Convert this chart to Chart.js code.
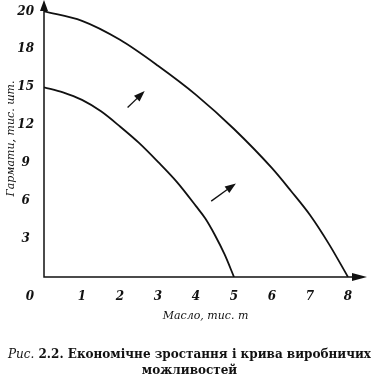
<!DOCTYPE html>
<html>
<head>
<meta charset="utf-8">
<script src="https://cdn.jsdelivr.net/npm/chart.js"></script>
<style>
  html, body { margin: 0; padding: 0; background: #fff; }
  #wrap { width: 379px; height: 389px; }
</style>
</head>
<body>
<div id="wrap"><canvas id="myChart"></canvas></div>
<script>
// Data
const upperX = [0, 1, 2, 3, 4, 5, 6, 6.5, 7, 7.5, 8];
const upperY = [20, 19.5, 18.5, 16.7, 14.4, 11.7, 8.6, 6.8, 4.9, 2.6, 0];
const lowerX = [0, 0.5, 1, 1.5, 2, 2.5, 3, 3.5, 4, 4.25, 4.5, 4.75, 5];
const lowerY = [15, 14.6, 14.0, 13.1, 11.9, 10.6, 9.1, 7.5, 5.6, 4.6, 3.3, 1.8, 0];

// shift arrows (data units)
const arrowFrom = [[2.2, 13.4], [4.4, 6.0]];
const arrowTo = [[2.65, 14.7], [5.05, 7.4]];

const xTicks = [1, 2, 3, 4, 5, 6, 7, 8];
const yTicks = [3, 6, 9, 12, 15, 18, 20];
const xTitle = 'Масло, тис. т';
const yTitle = 'Гармати, тис. шт.';
const captionPrefix = 'Рис.';
const captionLine1 = ' 2.2. Економічне зростання і крива виробничих';
const captionLine2 = 'можливостей';

const ink = '#111';
const tickFont = { family: 'DejaVu Serif', style: 'italic', weight: 'bold', size: 12 };
const titleFont = { family: 'DejaVu Serif', style: 'italic', size: 11 };

// printed y axis has equal gaps between its labels (0,3,...,18,20)
const yBreaks = [0].concat(yTicks);
function yStep(v) {
    for (let i = 0; i < yBreaks.length - 1; i++) {
        if (v <= yBreaks[i + 1]) return i + (v - yBreaks[i]) / (yBreaks[i + 1] - yBreaks[i]);
    }
    const n = yBreaks.length - 1;
    return n + (v - yBreaks[n]) / (yBreaks[n] - yBreaks[n - 1]);
}
function yFromStep(s) {
    const n = yBreaks.length - 1;
    if (s >= n) return yBreaks[n] + (s - n) * (yBreaks[n] - yBreaks[n - 1]);
    const i = Math.max(0, Math.floor(s));
    return yBreaks[i] + (s - i) * (yBreaks[i + 1] - yBreaks[i]);
}

class PrintedScale extends Chart.LinearScale {
    getPixelForValue(value) {
        return this.getPixelForDecimal(yStep(value) / yStep(this.max));
    }
    getValueForPixel(pixel) {
        return yFromStep(this.getDecimalForPixel(pixel) * yStep(this.max));
    }
}
PrintedScale.id = 'printed';
PrintedScale.defaults = Chart.LinearScale.defaults;
Chart.register(PrintedScale);

function arrowHead(ctx, x1, y1, x2, y2, len, half) {
    const a = Math.atan2(y2 - y1, x2 - x1);
    ctx.beginPath();
    ctx.moveTo(x2, y2);
    ctx.lineTo(x2 - len * Math.cos(a) + half * Math.sin(a), y2 - len * Math.sin(a) - half * Math.cos(a));
    ctx.lineTo(x2 - len * Math.cos(a) - half * Math.sin(a), y2 - len * Math.sin(a) + half * Math.cos(a));
    ctx.closePath();
    ctx.fill();
}

const extras = {
    id: 'extras',
    afterDraw(chart) {
        const ctx = chart.ctx;
        const a = chart.chartArea;
        const xs = chart.scales.x, ys = chart.scales.y;
        ctx.save();
        ctx.strokeStyle = ink;
        ctx.fillStyle = ink;

        // axes with arrows
        ctx.lineWidth = 1.5;
        ctx.beginPath();
        ctx.moveTo(a.left, a.top + 8);
        ctx.lineTo(a.left, a.bottom);
        ctx.lineTo(a.right - 10, a.bottom);
        ctx.stroke();
        arrowHead(ctx, a.left, a.bottom, a.left, a.top, 11, 4);
        arrowHead(ctx, a.left, a.bottom, a.right, a.bottom, 15, 4);

        // shift arrows
        ctx.lineWidth = 1.3;
        for (let i = 0; i < arrowFrom.length; i++) {
            const x1 = xs.getPixelForValue(arrowFrom[i][0]), y1 = ys.getPixelForValue(arrowFrom[i][1]);
            const x2 = xs.getPixelForValue(arrowTo[i][0]), y2 = ys.getPixelForValue(arrowTo[i][1]);
            const ang = Math.atan2(y2 - y1, x2 - x1);
            ctx.beginPath();
            ctx.moveTo(x1, y1);
            ctx.lineTo(x2 - 8 * Math.cos(ang), y2 - 8 * Math.sin(ang));
            ctx.stroke();
            arrowHead(ctx, x1, y1, x2, y2, 11, 4);
        }

        // origin label
        ctx.font = 'italic bold 12px "DejaVu Serif"';
        ctx.textAlign = 'center';
        ctx.textBaseline = 'middle';
        ctx.fillText('0', xs.getPixelForValue(0) - 14, a.bottom + 20);

        // caption
        const capItalic = 'italic 12px "DejaVu Serif"';
        const capBold = 'bold 12px "DejaVu Serif"';
        ctx.textAlign = 'left';
        ctx.font = capItalic;
        const w1 = ctx.measureText(captionPrefix).width;
        ctx.font = capBold;
        const w2 = ctx.measureText(captionLine1).width;
        const cx = chart.width / 2;
        const x0 = cx - (w1 + w2) / 2;
        ctx.font = capItalic;
        ctx.fillText(captionPrefix, x0, 355);
        ctx.font = capBold;
        ctx.fillText(captionLine1, x0 + w1, 355);
        ctx.textAlign = 'center';
        ctx.fillText(captionLine2, cx, 371);
        ctx.restore();
    }
};

const lineStyle = {
    borderColor: ink,
    borderWidth: 1.8,
    pointRadius: 0,
    fill: false,
    cubicInterpolationMode: 'monotone'
};

const ctx = document.getElementById('myChart').getContext('2d');
const myChart = new Chart(ctx, {
    type: 'line',
    data: {
        datasets: [
            Object.assign({ label: 'upper', data: upperX.map((x, i) => ({ x: x, y: upperY[i] })) }, lineStyle),
            Object.assign({ label: 'lower', data: lowerX.map((x, i) => ({ x: x, y: lowerY[i] })) }, lineStyle)
        ]
    },
    options: {
        responsive: true,
        maintainAspectRatio: false,
        animation: false,
        layout: { padding: { top: 0, right: 12, left: 0, bottom: 62 } },
        plugins: {
            legend: { display: false },
            tooltip: { enabled: false }
        },
        scales: {
            x: {
                type: 'linear',
                min: 0,
                max: 8.5,
                grid: { display: false, drawTicks: false },
                border: { display: false },
                afterBuildTicks: s => { s.ticks = xTicks.map(v => ({ value: v })); },
                afterFit: s => { s.height = 50; s.paddingLeft = 0; s.paddingRight = 0; },
                ticks: { color: ink, font: tickFont, padding: 13, maxRotation: 0 },
                title: { display: true, text: xTitle, color: ink, font: titleFont, padding: { top: 0, bottom: 4 } }
            },
            y: {
                type: 'printed',
                min: 0,
                max: 20.6,
                grid: { display: false, drawTicks: false },
                border: { display: false },
                afterBuildTicks: s => { s.ticks = yTicks.map(v => ({ value: v })); },
                afterFit: s => { s.width = 44; s.paddingTop = 0; s.paddingBottom = 0; },
                ticks: { color: ink, font: tickFont, padding: 10, crossAlign: 'center' },
                title: { display: true, text: yTitle, color: ink, font: titleFont, padding: { top: 5, bottom: 0 } }
            }
        }
    },
    plugins: [extras]
});
</script>
</body>
</html>
